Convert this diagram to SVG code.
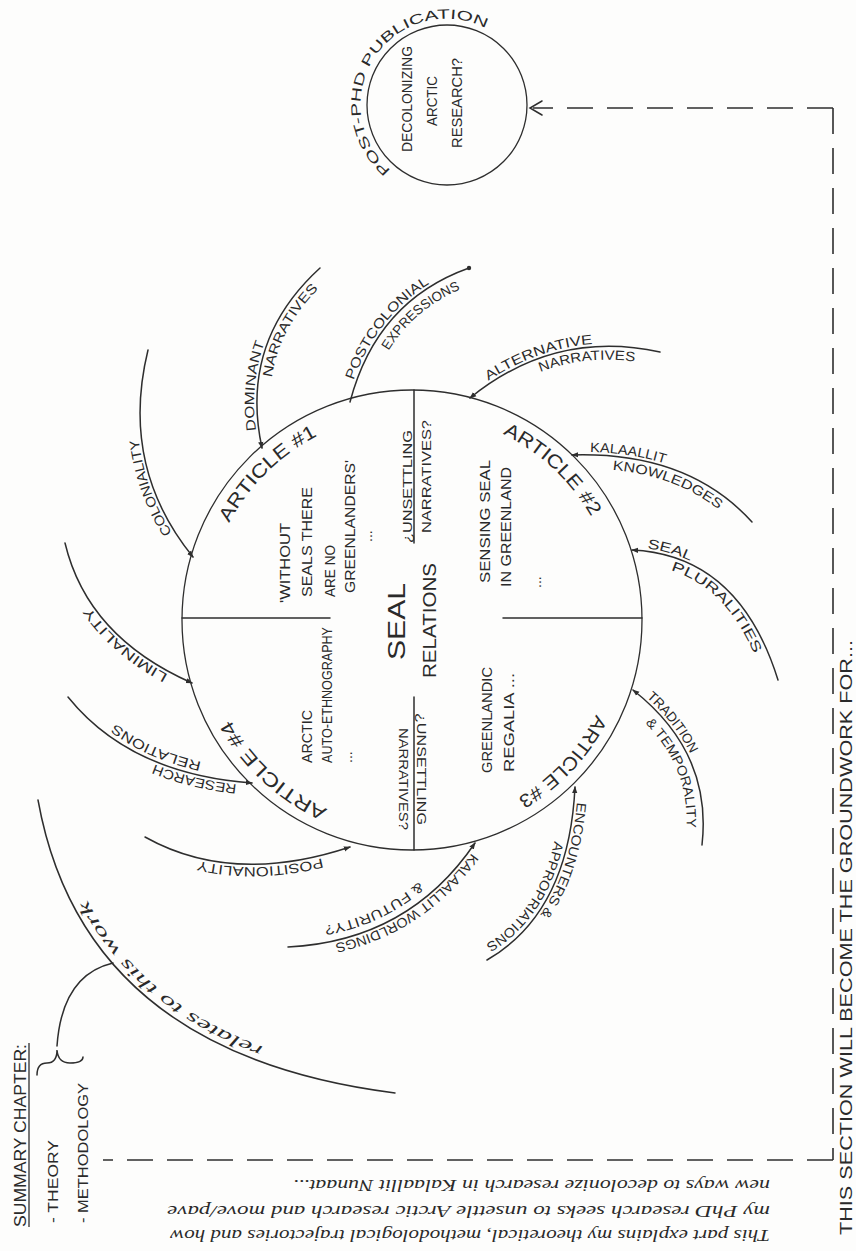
<svg xmlns="http://www.w3.org/2000/svg" width="856" height="1251" viewBox="0 0 856 1251">
<style>
.ln{fill:none;stroke:#2e2e2e;stroke-width:1.5;stroke-linecap:round}
.thin{fill:none;stroke:#2e2e2e;stroke-width:1.3}
.dash{fill:none;stroke:#2e2e2e;stroke-width:1.6;stroke-dasharray:26 14}
.t{font-family:"Liberation Sans",Arial,sans-serif;fill:#2a2a2a;font-size:14px}
.s{font-size:13.5px}
.a{font-size:19px}
.h{font-family:"Liberation Serif","Times New Roman",serif;font-style:italic;fill:#2a2a2a;font-size:16px}
</style>
<defs>
<marker id="arr" viewBox="0 0 8 8" refX="7" refY="4" markerWidth="7" markerHeight="7" markerUnits="userSpaceOnUse" orient="auto"><path d="M0,1 L8,4 L0,7 z" fill="#2e2e2e"/></marker>
<path id="artc" d="M619,620 A207,207 0 1 1 205,620 A207,207 0 1 1 619,620"/>
<path id="lp-col" d="M190.7,558.9 Q116.6,467.2 145.1,349.3"/>
<path id="lp-dom1" d="M259.1,448.6 Q236.1,341.1 318,265.8"/>
<path id="lp-dom2" d="M275.7,445 Q252.3,346.2 329.5,278.3"/>
<path id="lp-post1" d="M347.1,401.2 Q374.3,299 468,265.2"/>
<path id="lp-post2" d="M366.4,406.3 Q389,312.5 474.7,284"/>
<path id="lp-alt1" d="M468.1,395.7 Q554.3,326.1 660.6,349.1"/>
<path id="lp-alt2" d="M478.8,408.9 Q558.2,342.6 657,365.7"/>
<path id="lp-kk1" d="M571.9,452 Q689.2,448.7 754.2,520"/>
<path id="lp-kk2" d="M572.4,469 Q682.5,464.4 741.6,531.4"/>
<path id="lp-sp1" d="M632.1,547 Q740.8,552.6 780.9,679.1"/>
<path id="lp-sp2" d="M631.3,564 Q730.4,566.1 764.6,684.2"/>
<path id="lp-tt1" d="M634.9,687.6 Q715.3,751.3 705,845.3"/>
<path id="lp-tt2" d="M622.5,703.4 Q696.8,759.1 685.1,843.1"/>
<path id="lp-ea1" d="M578,787.1 Q571.6,914.1 488.5,962.6"/>
<path id="lp-ea2" d="M561,786.3 Q557,905.2 480,947.9"/>
<path id="lp-kw1" d="M477.5,844.7 Q410,943.6 288.2,950"/>
<path id="lp-kw2" d="M460.9,833.4 Q400.2,926.2 287.1,930"/>
<path id="lp-pos" d="M351,849.8 Q232.2,889 143.5,839.6"/>
<path id="lp-rr1" d="M251.8,786 Q128.6,776.7 65.7,698.9"/>
<path id="lp-rr2" d="M253,769 Q136.5,761.6 78.9,688.2"/>
<path id="lp-lim" d="M190.8,685.7 Q85.2,638.9 62.1,543.7"/>
<path id="lp-rel" d="M397,1077.1 Q94.5,1041.9 53.7,797.2"/>
<path id="lp-pp" d="M394.1,172.8 A86,86 0 1 1 504.5,41.1"/>
</defs>
<rect width="856" height="1251" fill="#fdfdfc"/>

<g id="main-circle">
<circle cx="412" cy="620" r="230" class="thin"/>
<path class="ln" d="M182,618 L330,618 M503,618 L642,618 M414,390 L414,543 M414,697 L414,850"/>
<text class="t" style="font-size:24px" transform="translate(405,660) rotate(-90)" textLength="77" lengthAdjust="spacingAndGlyphs">SEAL</text>
<text class="t" style="font-size:19px" transform="translate(436,678) rotate(-90)" textLength="115" lengthAdjust="spacingAndGlyphs">RELATIONS</text>
</g>

<g id="article1">
<text class="t a"><textPath href="#artc" startOffset="751" textLength="126" lengthAdjust="spacingAndGlyphs">ARTICLE #1</textPath></text>
<text class="t" transform="translate(290,603) rotate(-90)" textLength="80" lengthAdjust="spacingAndGlyphs">'WITHOUT</text>
<text class="t" transform="translate(312,597) rotate(-90)" textLength="110" lengthAdjust="spacingAndGlyphs">SEALS THERE</text>
<text class="t" transform="translate(335,597) rotate(-90)" textLength="52" lengthAdjust="spacingAndGlyphs">ARE NO</text>
<text class="t" transform="translate(355,593) rotate(-90)" textLength="133" lengthAdjust="spacingAndGlyphs">GREENLANDERS'</text>
<text class="t" transform="translate(372,542) rotate(-90)">...</text>
</g>

<g id="unsettling-top">
<text class="t" style="font-size:13px" transform="translate(412,543) rotate(-90)" textLength="113" lengthAdjust="spacingAndGlyphs">¿UNSETTLING</text>
<text class="t" style="font-size:13px" transform="translate(431,533) rotate(-90)" textLength="113" lengthAdjust="spacingAndGlyphs">NARRATIVES?</text>
</g>

<g id="article2">
<text class="t a"><textPath href="#artc" startOffset="1069" textLength="123" lengthAdjust="spacingAndGlyphs">ARTICLE #2</textPath></text>
<text class="t" transform="translate(490,583) rotate(-90)" textLength="123" lengthAdjust="spacingAndGlyphs">SENSING SEAL</text>
<text class="t" transform="translate(511,587) rotate(-90)" textLength="120" lengthAdjust="spacingAndGlyphs">IN GREENLAND</text>
<text class="t" transform="translate(541,588) rotate(-90)">...</text>
</g>

<g id="article3">
<text class="t a"><textPath href="#artc" startOffset="98" textLength="116" lengthAdjust="spacingAndGlyphs">ARTICLE #3</textPath></text>
<text class="t" transform="translate(492,773) rotate(-90)" textLength="106" lengthAdjust="spacingAndGlyphs">GREENLANDIC</text>
<text class="t" transform="translate(514,772) rotate(-90)" textLength="99" lengthAdjust="spacingAndGlyphs">REGALIA ...</text>
</g>

<g id="unsettling-bottom">
<text class="t" style="font-size:13px" transform="translate(417,713) rotate(90)" textLength="112" lengthAdjust="spacingAndGlyphs">¿UNSETTLING</text>
<text class="t" style="font-size:13px" transform="translate(399,728) rotate(90)" textLength="102" lengthAdjust="spacingAndGlyphs">NARRATIVES?</text>
</g>

<g id="article4">
<text class="t a"><textPath href="#artc" startOffset="412" textLength="134" lengthAdjust="spacingAndGlyphs">ARTICLE #4</textPath></text>
<text class="t" transform="translate(312,763) rotate(-90)" textLength="53" lengthAdjust="spacingAndGlyphs">ARCTIC</text>
<text class="t" transform="translate(332,763) rotate(-90)" textLength="136" lengthAdjust="spacingAndGlyphs">AUTO-ETHNOGRAPHY</text>
<text class="t" transform="translate(352,763) rotate(-90)">...</text>
</g>

<g id="connectors">
<path class="ln" marker-end="url(#arr)" d="M148,350 Q119.5,466.5 193,557"/>
<path class="ln" marker-end="url(#arr)" d="M320,268 Q239,342 262,448"/>
<path class="ln" d="M469,268 Q376.5,301 350,402"/>
<circle cx="469" cy="268" r="2.2" fill="#2e2e2e"/>
<path class="ln" marker-end="url(#arr)" d="M660,352 Q555,329 470,398"/>
<path class="ln" marker-end="url(#arr)" d="M752,522 Q688,451.5 572,455"/>
<path class="ln" marker-end="url(#arr)" d="M778,680 Q739,555 632,550"/>
<path class="ln" marker-end="url(#arr)" d="M702,845 Q712.5,752.5 633,690"/>
<path class="ln" marker-end="url(#arr)" d="M487,960 Q569,912.5 575,787"/>
<path class="ln" marker-end="url(#arr)" d="M288,947 Q408.5,941 475,843"/>
<path class="ln" marker-end="url(#arr)" d="M145,837 Q232.5,886 350,847"/>
<path class="ln" marker-end="url(#arr)" d="M68,697 Q130,774 252,783"/>
<path class="ln" marker-end="url(#arr)" d="M65,543 Q87.5,637 192,683"/>
<path class="ln" d="M38,800 Q83.5,1053.5 395,1093"/>
<path class="ln" d="M57,1046 Q62,975 113,963"/>
<path class="dash" d="M833,108 H533"/>
<path class="ln" d="M542,101 L530,108 L542,115"/>
<path class="dash" d="M833,108 V1160"/>
<path class="dash" d="M833,1160 H103"/>
</g>

<g id="spoke-labels">
<text class="t s"><textPath href="#lp-col" startOffset="32" textLength="100" lengthAdjust="spacingAndGlyphs">COLONIALITY</textPath></text>
<text class="t s"><textPath href="#lp-dom1" startOffset="18" textLength="90" lengthAdjust="spacingAndGlyphs">DOMINANT</textPath></text>
<text class="t s"><textPath href="#lp-dom2" startOffset="68" textLength="102" lengthAdjust="spacingAndGlyphs">NARRATIVES</textPath></text>
<text class="t s"><textPath href="#lp-post1" startOffset="22" textLength="125" lengthAdjust="spacingAndGlyphs">POSTCOLONIAL</textPath></text>
<text class="t s"><textPath href="#lp-post2" startOffset="60" textLength="96" lengthAdjust="spacingAndGlyphs">EXPRESSIONS</textPath></text>
<text class="t s"><textPath href="#lp-alt1" startOffset="25" textLength="112" lengthAdjust="spacingAndGlyphs">ALTERNATIVE</textPath></text>
<text class="t s"><textPath href="#lp-alt2" startOffset="72" textLength="96" lengthAdjust="spacingAndGlyphs">NARRATIVES</textPath></text>
<text class="t s"><textPath href="#lp-kk1" startOffset="18" textLength="76" lengthAdjust="spacingAndGlyphs">KALAALLIT</textPath></text>
<text class="t s"><textPath href="#lp-kk2" startOffset="40" textLength="115" lengthAdjust="spacingAndGlyphs">KNOWLEDGES</textPath></text>
<text class="t s"><textPath href="#lp-sp1" startOffset="15" textLength="45" lengthAdjust="spacingAndGlyphs">SEAL</textPath></text>
<text class="t s"><textPath href="#lp-sp2" startOffset="40" textLength="122" lengthAdjust="spacingAndGlyphs">PLURALITIES</textPath></text>
<text class="t s"><textPath href="#lp-tt1" startOffset="15" textLength="72" lengthAdjust="spacingAndGlyphs">TRADITION</textPath></text>
<text class="t s"><textPath href="#lp-tt2" startOffset="30" textLength="116" lengthAdjust="spacingAndGlyphs">&amp; TEMPORALITY</textPath></text>
<text class="t s"><textPath href="#lp-ea1" startOffset="15" textLength="120" lengthAdjust="spacingAndGlyphs">ENCOUNTERS &amp;</textPath></text>
<text class="t s"><textPath href="#lp-ea2" startOffset="55" textLength="128" lengthAdjust="spacingAndGlyphs">APPROPRIATIONS</textPath></text>
<text class="t s"><textPath href="#lp-kw1" startOffset="10" textLength="168" lengthAdjust="spacingAndGlyphs">KALAALLIT WORLDINGS</textPath></text>
<text class="t s"><textPath href="#lp-kw2" startOffset="64" textLength="106" lengthAdjust="spacingAndGlyphs">&amp; FUTURITY?</textPath></text>
<text class="t s"><textPath href="#lp-pos" startOffset="30" textLength="125" lengthAdjust="spacingAndGlyphs">POSITIONALITY</textPath></text>
<text class="t s"><textPath href="#lp-rr1" startOffset="15" textLength="85" lengthAdjust="spacingAndGlyphs">RESEARCH</textPath></text>
<text class="t s"><textPath href="#lp-rr2" startOffset="52" textLength="95" lengthAdjust="spacingAndGlyphs">RELATIONS</textPath></text>
<text class="t s"><textPath href="#lp-lim" startOffset="25" textLength="105" lengthAdjust="spacingAndGlyphs">LIMINALITY</textPath></text>
<text class="h" style="font-size:17px"><textPath href="#lp-rel" startOffset="137" textLength="235" lengthAdjust="spacingAndGlyphs">relates to this work</textPath></text>
</g>

<g id="summary-chapter">
<text class="t" style="font-size:17px" transform="translate(26,1227) rotate(-90)" textLength="183" lengthAdjust="spacingAndGlyphs">SUMMARY CHAPTER:</text>
<path class="thin" d="M29,1227 V1043"/>
<text class="t" transform="translate(58,1223) rotate(-90)" textLength="83" lengthAdjust="spacingAndGlyphs">- THEORY</text>
<text class="t" transform="translate(88,1223) rotate(-90)" textLength="140" lengthAdjust="spacingAndGlyphs">- METHODOLOGY</text>
<path class="ln" d="M37,1075 Q37,1063 47,1063 Q57,1063 57,1050 Q58,1063 70,1063 Q83,1063 83,1057"/>
</g>

<g id="post-phd">
<circle cx="447" cy="105" r="80" class="thin"/>
<text class="t s"><textPath href="#lp-pp" startOffset="4" textLength="250" lengthAdjust="spacingAndGlyphs">POST-PHD PUBLICATION</textPath></text>
<text class="t" transform="translate(412,152) rotate(-90)" textLength="106" lengthAdjust="spacingAndGlyphs">DECOLONIZING</text>
<text class="t" transform="translate(437,126) rotate(-90)" textLength="50" lengthAdjust="spacingAndGlyphs">ARCTIC</text>
<text class="t" transform="translate(462,148) rotate(-90)" textLength="90" lengthAdjust="spacingAndGlyphs">RESEARCH?</text>
</g>

<g id="groundwork-note">
<text class="t" style="font-size:16px" transform="translate(852,1235) rotate(-90)" textLength="595" lengthAdjust="spacingAndGlyphs">THIS SECTION WILL BECOME THE GROUNDWORK FOR...</text>
</g>

<g id="footnote">
<text class="h" transform="translate(770,1230) rotate(180)" textLength="600" lengthAdjust="spacingAndGlyphs">This part explains my theoretical, methodological trajectories and how</text>
<text class="h" transform="translate(770,1206) rotate(180)" textLength="603" lengthAdjust="spacingAndGlyphs">my PhD research seeks to unsettle Arctic research and move/pave</text>
<text class="h" transform="translate(770,1180) rotate(180)" textLength="477" lengthAdjust="spacingAndGlyphs">new ways to decolonize research in Kalaallit Nunaat...</text>
</g>
</svg>
